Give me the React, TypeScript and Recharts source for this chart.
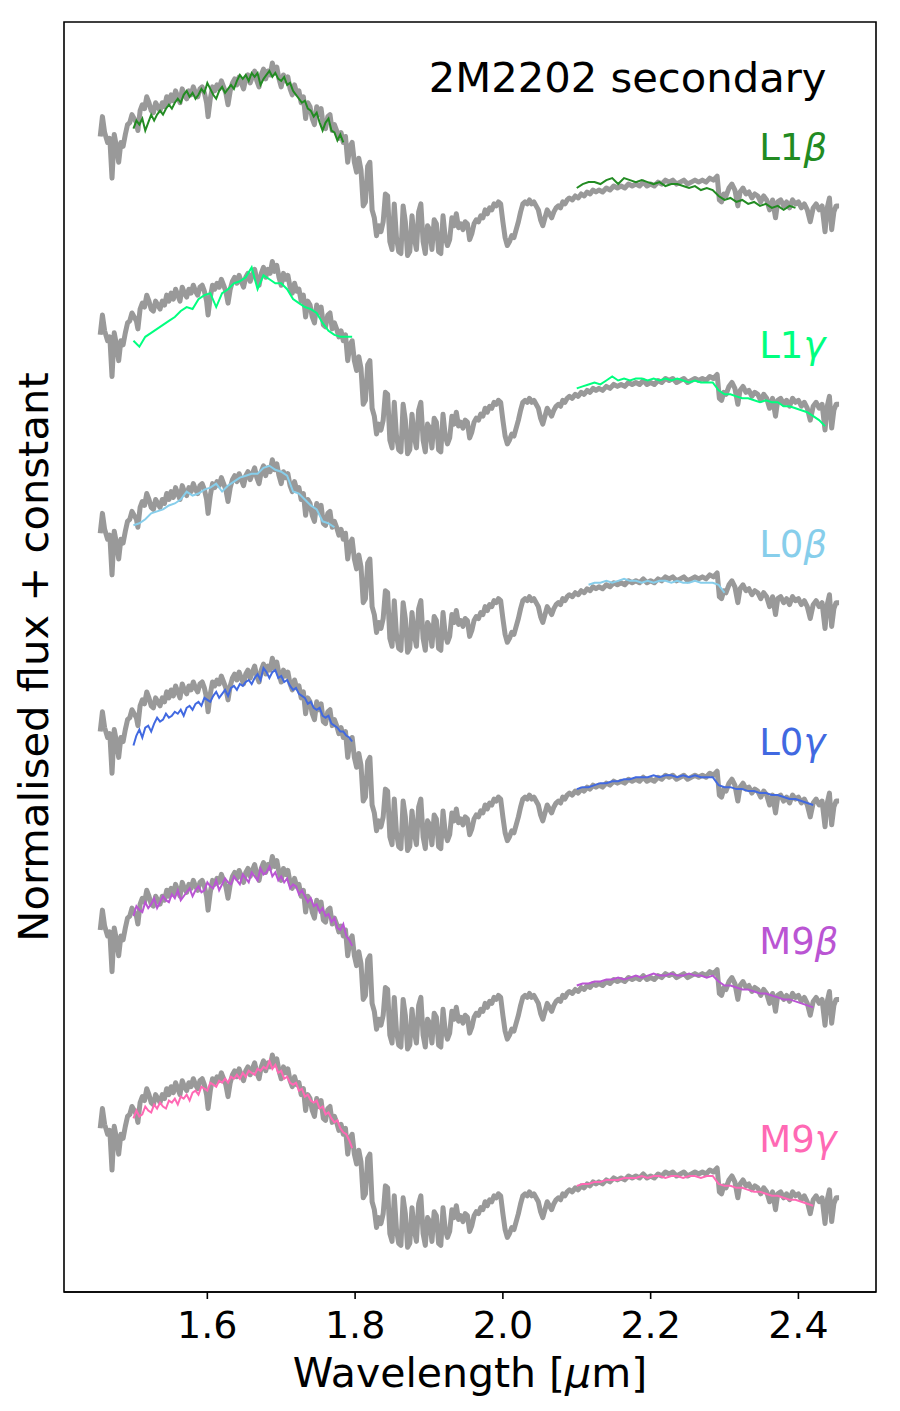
import React from 'react';
import { ComposedChart, Line, XAxis, YAxis, ReferenceDot, ReferenceArea } from 'recharts';

// Observed spectrum of 2M2202 secondary: [wavelength (µm), normalised flux]
const GRAY_SPECTRUM: [number, number][] = [
  [1.455, 0.63], [1.458, 0.73], [1.461, 0.65], [1.465, 0.60], [1.468, 0.62], [1.471, 0.42], [1.474, 0.64], [1.477, 0.58],
  [1.480, 0.50], [1.483, 0.60], [1.486, 0.58], [1.489, 0.64], [1.492, 0.69], [1.495, 0.70], [1.498, 0.74], [1.501, 0.72],
  [1.504, 0.70], [1.506, 0.66], [1.509, 0.76], [1.512, 0.79], [1.515, 0.77], [1.518, 0.83], [1.521, 0.80], [1.524, 0.76],
  [1.527, 0.75], [1.530, 0.80], [1.533, 0.78], [1.536, 0.76], [1.539, 0.80], [1.542, 0.78], [1.545, 0.83], [1.548, 0.80],
  [1.551, 0.84], [1.554, 0.81], [1.557, 0.86], [1.560, 0.83], [1.563, 0.80], [1.566, 0.87], [1.569, 0.84], [1.572, 0.82],
  [1.575, 0.86], [1.578, 0.84], [1.581, 0.88], [1.584, 0.85], [1.587, 0.83], [1.590, 0.87], [1.593, 0.88], [1.596, 0.85],
  [1.599, 0.80], [1.601, 0.73], [1.604, 0.82], [1.607, 0.88], [1.610, 0.86], [1.613, 0.89], [1.616, 0.87], [1.619, 0.91],
  [1.622, 0.88], [1.625, 0.85], [1.628, 0.79], [1.631, 0.86], [1.634, 0.90], [1.637, 0.92], [1.640, 0.89], [1.643, 0.93],
  [1.646, 0.90], [1.649, 0.87], [1.652, 0.92], [1.655, 0.94], [1.658, 0.90], [1.661, 0.93], [1.664, 0.96], [1.667, 0.91],
  [1.670, 0.88], [1.673, 0.94], [1.676, 0.97], [1.679, 0.92], [1.682, 0.96], [1.685, 0.94], [1.688, 1.00], [1.691, 0.95],
  [1.694, 0.98], [1.697, 0.92], [1.700, 0.88], [1.703, 0.94], [1.706, 0.91], [1.709, 0.93], [1.712, 0.87], [1.715, 0.84],
  [1.718, 0.89], [1.721, 0.85], [1.724, 0.86], [1.727, 0.80], [1.730, 0.83], [1.733, 0.72], [1.736, 0.80], [1.739, 0.78],
  [1.742, 0.72], [1.745, 0.69], [1.748, 0.78], [1.751, 0.74], [1.754, 0.77], [1.757, 0.68], [1.760, 0.67], [1.763, 0.73],
  [1.766, 0.74], [1.769, 0.66], [1.772, 0.69], [1.775, 0.66], [1.778, 0.62], [1.781, 0.65], [1.784, 0.60], [1.787, 0.63],
  [1.790, 0.50], [1.793, 0.58], [1.796, 0.60], [1.799, 0.50], [1.802, 0.45], [1.805, 0.52], [1.808, 0.46], [1.811, 0.28],
  [1.814, 0.30], [1.817, 0.48], [1.820, 0.50], [1.823, 0.26], [1.826, 0.22], [1.829, 0.13], [1.832, 0.18], [1.835, 0.15],
  [1.838, 0.20], [1.841, 0.34], [1.844, 0.33], [1.847, 0.10], [1.850, 0.06], [1.853, 0.29], [1.856, 0.12], [1.859, 0.05],
  [1.862, 0.04], [1.865, 0.28], [1.868, 0.20], [1.871, 0.03], [1.874, 0.05], [1.877, 0.23], [1.880, 0.12], [1.883, 0.06],
  [1.886, 0.25], [1.889, 0.29], [1.892, 0.10], [1.895, 0.04], [1.898, 0.18], [1.901, 0.16], [1.904, 0.06], [1.907, 0.21],
  [1.910, 0.19], [1.913, 0.05], [1.916, 0.04], [1.919, 0.23], [1.922, 0.12], [1.925, 0.08], [1.928, 0.11], [1.931, 0.22],
  [1.934, 0.18], [1.937, 0.24], [1.940, 0.17], [1.943, 0.19], [1.946, 0.16], [1.949, 0.20], [1.952, 0.19], [1.955, 0.11],
  [1.958, 0.14], [1.961, 0.19], [1.964, 0.21], [1.967, 0.20], [1.970, 0.23], [1.973, 0.22], [1.976, 0.26], [1.979, 0.24],
  [1.982, 0.27], [1.985, 0.26], [1.988, 0.29], [1.991, 0.28], [1.994, 0.30], [1.997, 0.29], [2.000, 0.20], [2.003, 0.12],
  [2.006, 0.08], [2.009, 0.10], [2.012, 0.13], [2.015, 0.12], [2.018, 0.16], [2.021, 0.20], [2.024, 0.25], [2.027, 0.29],
  [2.030, 0.30], [2.033, 0.29], [2.036, 0.31], [2.039, 0.29], [2.042, 0.30], [2.045, 0.28], [2.048, 0.26], [2.051, 0.21],
  [2.054, 0.18], [2.057, 0.22], [2.060, 0.26], [2.063, 0.24], [2.066, 0.22], [2.069, 0.25], [2.072, 0.27], [2.075, 0.28],
  [2.078, 0.27], [2.081, 0.30], [2.084, 0.29], [2.087, 0.31], [2.090, 0.32], [2.094, 0.31], [2.098, 0.33], [2.102, 0.32],
  [2.106, 0.34], [2.110, 0.33], [2.114, 0.35], [2.118, 0.34], [2.122, 0.36], [2.126, 0.35], [2.130, 0.36], [2.135, 0.35],
  [2.140, 0.37], [2.145, 0.36], [2.150, 0.38], [2.155, 0.37], [2.160, 0.38], [2.165, 0.37], [2.170, 0.39], [2.175, 0.38],
  [2.180, 0.39], [2.185, 0.38], [2.190, 0.40], [2.195, 0.38], [2.200, 0.39], [2.205, 0.38], [2.210, 0.40], [2.215, 0.39],
  [2.220, 0.41], [2.225, 0.40], [2.230, 0.41], [2.235, 0.39], [2.240, 0.40], [2.245, 0.41], [2.250, 0.39], [2.255, 0.40],
  [2.260, 0.41], [2.265, 0.40], [2.270, 0.41], [2.275, 0.40], [2.280, 0.42], [2.285, 0.41], [2.290, 0.43], [2.293, 0.31],
  [2.296, 0.30], [2.299, 0.34], [2.302, 0.33], [2.306, 0.37], [2.310, 0.39], [2.314, 0.36], [2.318, 0.28], [2.321, 0.35],
  [2.325, 0.37], [2.329, 0.34], [2.333, 0.35], [2.337, 0.32], [2.341, 0.34], [2.345, 0.33], [2.349, 0.30], [2.353, 0.33],
  [2.357, 0.31], [2.361, 0.26], [2.365, 0.31], [2.369, 0.22], [2.372, 0.30], [2.376, 0.31], [2.380, 0.28], [2.384, 0.30],
  [2.388, 0.27], [2.392, 0.31], [2.396, 0.29], [2.400, 0.30], [2.404, 0.27], [2.408, 0.29], [2.412, 0.26], [2.416, 0.20],
  [2.420, 0.27], [2.424, 0.29], [2.428, 0.26], [2.432, 0.28], [2.436, 0.15], [2.439, 0.27], [2.442, 0.32], [2.445, 0.16],
  [2.448, 0.25], [2.451, 0.28], [2.455, 0.28],
];

// Template wavelength grids (µm)
const H_WAVE = [
  1.500, 1.508, 1.516, 1.524, 1.532, 1.540, 1.548, 1.556, 1.564, 1.572, 1.580, 1.588, 1.596, 1.604, 1.612, 1.620, 1.628, 1.636, 1.644,
  1.652, 1.660, 1.668, 1.676, 1.684, 1.692, 1.700, 1.708, 1.716, 1.724, 1.732, 1.740, 1.748, 1.756, 1.764, 1.772, 1.780, 1.788, 1.796,
];
const H_WAVE_FINE = [
  1.500, 1.504, 1.508, 1.512, 1.516, 1.520, 1.524, 1.528, 1.532, 1.536, 1.540, 1.544, 1.548, 1.552, 1.556, 1.560, 1.564, 1.568, 1.572,
  1.576, 1.580, 1.584, 1.588, 1.592, 1.596, 1.600, 1.604, 1.608, 1.612, 1.616, 1.620, 1.624, 1.628, 1.632, 1.636, 1.640, 1.644, 1.648,
  1.652, 1.656, 1.660, 1.664, 1.668, 1.672, 1.676, 1.680, 1.684, 1.688, 1.692, 1.696, 1.700, 1.704, 1.708, 1.712, 1.716, 1.720, 1.724,
  1.728, 1.732, 1.736, 1.740, 1.744, 1.748, 1.752, 1.756, 1.760, 1.764, 1.768, 1.772, 1.776, 1.780, 1.784, 1.788, 1.792, 1.796,
];
const K_WAVE = [
  2.100, 2.108, 2.116, 2.124, 2.132, 2.140, 2.148, 2.156, 2.164, 2.172, 2.180, 2.188, 2.196, 2.204, 2.212, 2.220, 2.228, 2.236, 2.244,
  2.252, 2.260, 2.268, 2.276, 2.284, 2.292, 2.300, 2.308, 2.316, 2.324, 2.332, 2.340, 2.348, 2.356, 2.364, 2.372, 2.380, 2.388, 2.396,
  2.404, 2.412, 2.420, 2.428, 2.436, 2.444,
];

// Template fluxes (null = no data)
const H_L1B = [
  0.67, 0.71, 0.69, 0.72, 0.66, 0.70, 0.74, 0.71, 0.74, 0.76, 0.74, 0.77, 0.79, 0.77, 0.80, 0.82, 0.80, 0.84, 0.86, 0.83,
  0.85, 0.82, 0.84, 0.87, 0.85, 0.90, 0.87, 0.84, 0.82, 0.86, 0.88, 0.85, 0.87, 0.89, 0.87, 0.91, 0.94, 0.92, 0.94, 0.91,
  0.95, 0.93, 0.95, 0.89, 0.92, 0.94, 0.96, 0.93, 0.95, 0.92, 0.91, 0.93, 0.89, 0.90, 0.86, 0.84, 0.82, 0.80, 0.81, 0.77,
  0.76, 0.73, 0.75, 0.70, 0.66, 0.70, 0.72, 0.66, 0.65, 0.61, 0.64, 0.60, null, null, null];
const K_L1B = [0.37, 0.39, 0.40, 0.40, 0.39, 0.41, 0.42, 0.39, 0.42, 0.41, 0.40, 0.41, 0.40, 0.39, 0.40, 0.38, 0.39, 0.39, 0.38,
  0.37, 0.38, 0.36, 0.37, 0.36, 0.33, 0.31, 0.32, 0.30, 0.31, 0.29, 0.30, 0.28, 0.29, 0.27, 0.28, 0.26, 0.28, 0.27,
  null, null, null, null, null, null];

const H_L1G = [0.60, 0.57, 0.62, 0.64, 0.66, 0.68, 0.70, 0.72, 0.75, 0.77, 0.76, 0.81, 0.83, 0.84, 0.77, 0.84, 0.86, 0.89, 0.90,
  0.92, 0.97, 0.86, 0.93, 0.91, 0.89, 0.89, 0.86, 0.81, 0.79, 0.77, 0.76, 0.74, 0.69, 0.65, 0.63, 0.62, 0.62, 0.62];
const K_L1G = [0.36, 0.37, 0.38, 0.39, 0.38, 0.40, 0.42, 0.40, 0.41, 0.40, 0.41, 0.41, 0.40, 0.41, 0.40, 0.41, 0.40, 0.41, 0.40,
  0.39, 0.40, 0.39, 0.39, 0.39, 0.35, 0.33, 0.33, 0.32, 0.31, 0.31, 0.30, 0.29, 0.30, 0.29, 0.29, 0.27, 0.27, 0.26,
  0.25, 0.24, 0.22, 0.20, 0.17, null];

const H_L0B = [0.67, 0.68, 0.70, 0.73, 0.74, 0.75, 0.77, 0.78, 0.80, 0.84, 0.82, 0.83, 0.85, 0.86, 0.88, 0.84, 0.87, 0.89, 0.91,
  0.92, 0.93, 0.93, 0.96, 0.97, 0.95, 0.94, 0.92, 0.84, 0.83, 0.80, 0.77, 0.75, 0.69, 0.68, 0.66, null, null, null];
const K_L0B = [null, null, 0.37, 0.38, 0.38, 0.39, 0.38, 0.39, 0.40, 0.39, 0.39, 0.38, 0.39, 0.38, 0.39, 0.39, 0.38, 0.39, 0.38,
  0.38, 0.39, 0.38, 0.38, 0.38, 0.37, 0.33, null, null, null, null, null, null, null, null, null, null, null, null,
  null, null, null, null, null, null];

const H_L0G = [
  0.56, 0.61, 0.64, 0.60, 0.65, 0.66, 0.63, 0.67, 0.70, 0.68, 0.69, 0.72, 0.70, 0.71, 0.73, 0.72, 0.74, 0.71, 0.75, 0.76,
  0.74, 0.77, 0.78, 0.76, 0.80, 0.79, 0.78, 0.81, 0.83, 0.80, 0.82, 0.84, 0.81, 0.85, 0.86, 0.84, 0.87, 0.86, 0.88, 0.89,
  0.87, 0.90, 0.92, 0.89, 0.95, 0.93, 0.90, 0.93, 0.94, 0.90, 0.91, 0.88, 0.89, 0.86, 0.84, 0.85, 0.82, 0.81, 0.80, 0.77,
  0.78, 0.75, 0.74, 0.75, 0.71, 0.70, 0.71, 0.67, 0.66, 0.65, 0.63, 0.63, 0.61, 0.60, 0.58];
const K_L0G = [0.34, 0.35, 0.35, 0.36, 0.37, 0.37, 0.38, 0.38, 0.39, 0.39, 0.40, 0.40, 0.40, 0.41, 0.40, 0.41, 0.41, 0.40, 0.41,
  0.40, 0.41, 0.40, 0.40, 0.40, 0.36, 0.35, 0.35, 0.34, 0.34, 0.33, 0.33, 0.32, 0.32, 0.31, 0.31, 0.30, 0.29, 0.29,
  0.28, 0.27, 0.26, null, null, null];

const H_M9B = [
  0.70, 0.75, 0.73, 0.72, 0.77, 0.74, 0.76, 0.79, 0.74, 0.77, 0.80, 0.78, 0.77, 0.81, 0.79, 0.83, 0.78, 0.80, 0.82, 0.84,
  0.80, 0.83, 0.85, 0.82, 0.83, 0.87, 0.85, 0.84, 0.88, 0.83, 0.86, 0.89, 0.87, 0.86, 0.90, 0.88, 0.86, 0.91, 0.89, 0.87,
  0.92, 0.90, 0.88, 0.94, 0.91, 0.92, 0.95, 0.90, 0.92, 0.88, 0.90, 0.87, 0.89, 0.84, 0.86, 0.85, 0.81, 0.83, 0.80, 0.77,
  0.79, 0.75, 0.76, 0.72, 0.74, 0.70, 0.71, 0.67, 0.69, 0.64, 0.63, 0.66, 0.60, 0.58, 0.55];
const K_M9B = [0.35, 0.36, 0.36, 0.37, 0.37, 0.38, 0.38, 0.39, 0.38, 0.39, 0.40, 0.39, 0.40, 0.41, 0.40, 0.40, 0.41, 0.40, 0.40,
  0.41, 0.40, 0.40, 0.39, 0.40, 0.37, 0.35, 0.35, 0.34, 0.33, 0.33, 0.32, 0.31, 0.31, 0.30, 0.29, 0.28, 0.28, 0.27,
  0.26, 0.25, 0.24, null, null, null];

const H_M9G = [
  0.68, 0.72, 0.69, 0.70, 0.74, 0.72, 0.71, 0.75, 0.73, 0.76, 0.74, 0.73, 0.77, 0.76, 0.78, 0.75, 0.79, 0.78, 0.80, 0.77,
  0.81, 0.82, 0.80, 0.84, 0.83, 0.82, 0.86, 0.85, 0.84, 0.87, 0.86, 0.88, 0.86, 0.89, 0.88, 0.90, 0.88, 0.91, 0.89, 0.92,
  0.91, 0.90, 0.93, 0.92, 0.94, 0.93, 0.97, 0.93, 0.95, 0.91, 0.92, 0.88, 0.89, 0.86, 0.85, 0.86, 0.82, 0.83, 0.79, 0.80,
  0.77, 0.76, 0.77, 0.73, 0.74, 0.70, 0.71, 0.68, 0.66, 0.67, 0.63, 0.61, 0.60, 0.57, 0.53];
const K_M9G = [0.34, 0.35, 0.35, 0.36, 0.36, 0.37, 0.37, 0.37, 0.38, 0.38, 0.38, 0.39, 0.38, 0.39, 0.39, 0.38, 0.39, 0.39, 0.38,
  0.39, 0.39, 0.38, 0.39, 0.39, 0.35, 0.34, 0.34, 0.33, 0.33, 0.32, 0.31, 0.31, 0.30, 0.29, 0.29, 0.28, 0.27, 0.27,
  0.26, 0.25, 0.24, null, null, null];

// Panels, top to bottom
const TEMPLATE_SPT = ['L1', 'L1', 'L0', 'L0', 'M9', 'M9'];
const TEMPLATE_GRAVITY = ['β', 'γ', 'β', 'γ', 'β', 'γ'];
const TEMPLATE_COLORS = ['#228B22', '#00FF7F', '#87CEEB', '#4169E1', '#BA55D3', '#FF69B4'];
const PANEL_OFFSETS = [5, 4, 3, 2, 1, 0];
const TEMPLATE_H = [H_L1B, H_L1G, H_L0B, H_L0G, H_M9B, H_M9G];
const TEMPLATE_H_WAVE = [H_WAVE_FINE, H_WAVE, H_WAVE, H_WAVE_FINE, H_WAVE_FINE, H_WAVE_FINE];
const TEMPLATE_K = [K_L1B, K_L1G, K_L0B, K_L0G, K_M9B, K_M9G];

const X_TICKS = [1.6, 1.8, 2.0, 2.2, 2.4];
const X_MIN = 1.406;
const X_MAX = 2.505;
const Y_MIN = -0.195;
const Y_MAX = 6.207;

const FONT = 'DejaVu Sans';
const GRAY = '#999999';

const zipSeries = (wave: number[], flux: (number | null)[], off: number) =>
  wave
    .map((x, i) => (flux[i] == null ? null : { x, y: (flux[i] as number) + off }))
    .filter((p) => p !== null) as { x: number; y: number }[];

const graySeries = PANEL_OFFSETS.map((off) => GRAY_SPECTRUM.map(([x, f]) => ({ x, y: f + off })));
const hSeries = PANEL_OFFSETS.map((off, i) => zipSeries(TEMPLATE_H_WAVE[i], TEMPLATE_H[i], off));
const kSeries = PANEL_OFFSETS.map((off, i) => zipSeries(K_WAVE, TEMPLATE_K[i], off));

const getPoint = (props: any) => {
  const vb = props.viewBox || {};
  return { x: (vb.x || 0) + (vb.width || 0) / 2, y: (vb.y || 0) + (vb.height || 0) / 2 };
};

const templateLabel = (i: number) => (props: any) => {
  const p = getPoint(props);
  return (
    <text x={p.x} y={p.y} fill={TEMPLATE_COLORS[i]} fontSize={37} fontFamily={FONT} textAnchor="start">
      {TEMPLATE_SPT[i]}
      <tspan fontStyle="italic">{TEMPLATE_GRAVITY[i]}</tspan>
    </text>
  );
};

const titleLabel = (props: any) => {
  const p = getPoint(props);
  return (
    <text x={p.x} y={p.y} fill="#000" fontSize={41.7} fontFamily={FONT} textAnchor="middle">
      2M2202 secondary
    </text>
  );
};

const xAxisLabel = (props: any) => {
  const vb = props.viewBox || { x: 56, y: 1284, width: 812 };
  const cx = vb.x + vb.width / 2;
  return (
    <text x={cx} y={1379} fill="#000" fontSize={41} fontFamily={FONT} textAnchor="middle">
      Wavelength [<tspan fontStyle="italic">μ</tspan>m]
    </text>
  );
};

const yAxisLabel = () => (
  <text
    x={40}
    y={649}
    transform="rotate(-90 40 649)"
    fill="#000"
    fontSize={41.7}
    fontFamily={FONT}
    textAnchor="middle"
  >
    Normalised flux + constant
  </text>
);

export default function App() {
  return (
    <div style={{ width: 884, height: 1395 }}>
      <ComposedChart width={884} height={1395} margin={{ top: 14, right: 16, bottom: 11, left: 0 }}>
        <XAxis
          type="number"
          dataKey="x"
          domain={[X_MIN, X_MAX]}
          allowDataOverflow
          ticks={X_TICKS}
          tickFormatter={(v: number) => v.toFixed(1)}
          height={100}
          tickSize={7}
          tickMargin={12}
          axisLine={{ stroke: '#000', strokeWidth: 1.6 }}
          tickLine={{ stroke: '#000', strokeWidth: 1.6 }}
          tick={{ fill: '#000', fontSize: 38, fontFamily: FONT }}
          label={xAxisLabel}
        />
        <YAxis
          type="number"
          domain={[Y_MIN, Y_MAX]}
          allowDataOverflow
          width={56}
          tick={false}
          tickLine={false}
          axisLine={false}
          label={yAxisLabel}
        />
        {graySeries.map((d, i) => (
          <Line
            key={`g${i}`}
            data={d}
            dataKey="y"
            type="linear"
            stroke={GRAY}
            strokeWidth={5}
            strokeLinejoin="round"
            dot={false}
            activeDot={false}
            isAnimationActive={false}
          />
        ))}
        {hSeries.map((d, i) => (
          <Line
            key={`h${i}`}
            data={d}
            dataKey="y"
            type="linear"
            stroke={TEMPLATE_COLORS[i]}
            strokeWidth={2}
            dot={false}
            activeDot={false}
            isAnimationActive={false}
          />
        ))}
        {kSeries.map((d, i) => (
          <Line
            key={`k${i}`}
            data={d}
            dataKey="y"
            type="linear"
            stroke={TEMPLATE_COLORS[i]}
            strokeWidth={2}
            dot={false}
            activeDot={false}
            isAnimationActive={false}
          />
        ))}
        {PANEL_OFFSETS.map((off, i) => (
          <ReferenceDot
            key={`l${i}`}
            x={2.347}
            y={off + 0.511}
            r={0}
            fill="none"
            stroke="none"
            label={templateLabel(i)}
          />
        ))}
        <ReferenceDot x={2.1688} y={5.854} r={0} fill="none" stroke="none" label={titleLabel} />
        <ReferenceArea
          x1={X_MIN}
          x2={X_MAX}
          y1={Y_MIN}
          y2={Y_MAX}
          fill="none"
          fillOpacity={0}
          stroke="#000"
          strokeWidth={1.6}
          ifOverflow="visible"
        />
      </ComposedChart>
    </div>
  );
}
